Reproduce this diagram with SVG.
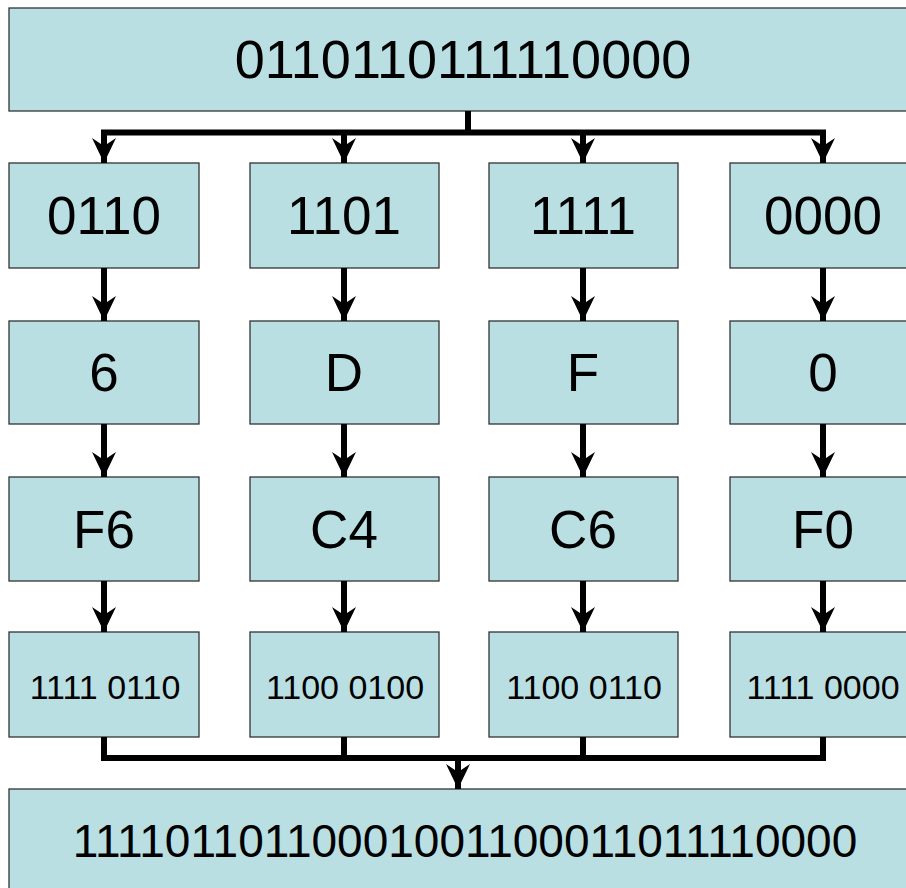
<svg xmlns="http://www.w3.org/2000/svg" width="906" height="888" viewBox="0 0 906 888">
<style>
.box{fill:#b9dfe2;stroke:#333;stroke-width:1.3}
.t{font-family:"Liberation Sans",Arial,sans-serif;fill:#000;text-anchor:middle}
.w{fill:none;stroke:#000;stroke-width:6;stroke-linejoin:miter}
</style>
<defs>
<path id="head" d="M0,0 L-12,-25 L-3,-19 L-3,-27 L3,-27 L3,-19 L12,-25 Z" fill="#000"/>
</defs>
<rect width="906" height="888" fill="#fff"/>
<g id="top"><rect class="box" x="9" y="8" width="912" height="103"/><text class="t" x="463" y="78" font-size="54">0110110111110000</text></g>
<g id="n1a"><rect class="box" x="9" y="163" width="190" height="105"/><text class="t" x="104" y="234" font-size="53">0110</text></g>
<g id="n2a"><rect class="box" x="250" y="163" width="189" height="105"/><text class="t" x="344" y="234" font-size="53">1101</text></g>
<g id="n3a"><rect class="box" x="489" y="163" width="189" height="105"/><text class="t" x="583" y="234" font-size="53">1111</text></g>
<g id="n4a"><rect class="box" x="730" y="163" width="190" height="105"/><text class="t" x="823" y="234" font-size="53">0000</text></g>
<g id="n1b"><rect class="box" x="9" y="321" width="190" height="103"/><text class="t" x="104" y="391" font-size="53">6</text></g>
<g id="n2b"><rect class="box" x="250" y="321" width="189" height="103"/><text class="t" x="344" y="391" font-size="53">D</text></g>
<g id="n3b"><rect class="box" x="489" y="321" width="189" height="103"/><text class="t" x="583" y="391" font-size="53">F</text></g>
<g id="n4b"><rect class="box" x="730" y="321" width="190" height="103"/><text class="t" x="823" y="391" font-size="53">0</text></g>
<g id="n1c"><rect class="box" x="9" y="477" width="190" height="104"/><text class="t" x="104" y="548" font-size="53">F6</text></g>
<g id="n2c"><rect class="box" x="250" y="477" width="189" height="104"/><text class="t" x="344" y="548" font-size="53">C4</text></g>
<g id="n3c"><rect class="box" x="489" y="477" width="189" height="104"/><text class="t" x="583" y="548" font-size="53">C6</text></g>
<g id="n4c"><rect class="box" x="730" y="477" width="190" height="104"/><text class="t" x="823" y="548" font-size="53">F0</text></g>
<g id="n1d"><rect class="box" x="9" y="632" width="190" height="105"/><text class="t" x="105" y="699" font-size="34">1111 0110</text></g>
<g id="n2d"><rect class="box" x="250" y="632" width="189" height="105"/><text class="t" x="345" y="699" font-size="34">1100 0100</text></g>
<g id="n3d"><rect class="box" x="489" y="632" width="189" height="105"/><text class="t" x="584" y="699" font-size="34">1100 0110</text></g>
<g id="n4d"><rect class="box" x="730" y="632" width="190" height="105"/><text class="t" x="823" y="699" font-size="34">1111 0000</text></g>
<g id="bottom"><rect class="box" x="9" y="789" width="912" height="110"/><text class="t" x="465" y="857" font-size="46">11110110110001001100011011110000</text></g>
<g id="connectors">
<path class="w" d="M468,111 V132.5 M104,163 V132.5 H823 V163 M344,132.5 V163 M583,132.5 V163"/>
<path class="w" d="M104,268 V321 M344,268 V321 M583,268 V321 M823,268 V321"/>
<path class="w" d="M104,424 V477 M344,424 V477 M583,424 V477 M823,424 V477"/>
<path class="w" d="M104,581 V632 M344,581 V632 M583,581 V632 M823,581 V632"/>
<path class="w" d="M104,737 V758 H823 V737 M344,737 V758 M583,737 V758 M458,758 V789"/>
<use href="#head" x="104" y="163"/><use href="#head" x="344" y="163"/><use href="#head" x="583" y="163"/><use href="#head" x="823" y="163"/>
<use href="#head" x="104" y="321"/><use href="#head" x="344" y="321"/><use href="#head" x="583" y="321"/><use href="#head" x="823" y="321"/>
<use href="#head" x="104" y="477"/><use href="#head" x="344" y="477"/><use href="#head" x="583" y="477"/><use href="#head" x="823" y="477"/>
<use href="#head" x="104" y="632"/><use href="#head" x="344" y="632"/><use href="#head" x="583" y="632"/><use href="#head" x="823" y="632"/>
<use href="#head" x="458" y="789"/>
</g>
</svg>
